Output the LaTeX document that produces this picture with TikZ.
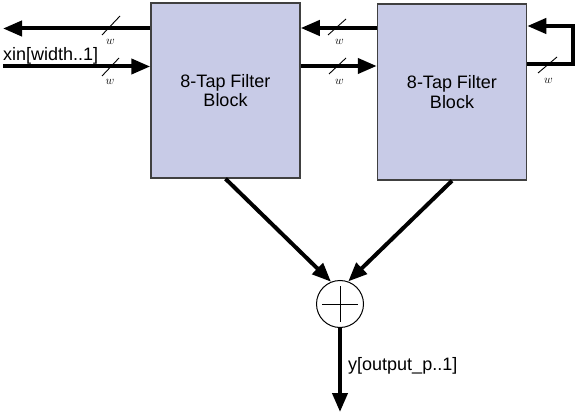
\documentclass[tikz,border=0pt]{standalone}
\usepackage{fontspec}
\setmainfont{Liberation Sans}
\usetikzlibrary{arrows.meta}
\definecolor{boxfill}{RGB}{200,203,231}
\definecolor{boxline}{RGB}{64,64,64}
\tikzset{
  fbox/.style={draw=boxline, line width=1.5pt, fill=boxfill, minimum width=149pt, minimum height=175pt, align=center, inner sep=0pt, font=\fontsize{18}{19.5}\selectfont},
  arr/.style={line width=4pt, -{Triangle[length=19pt,width=15pt]}},
  slash/.style={line width=0.9pt},
  wlab/.style={inner sep=0pt, font=\fontsize{13}{15}\selectfont},
  lbl/.style={inner sep=0pt, font=\fontsize{18}{20}\selectfont},
  sumc/.style={circle, draw, line width=1pt, minimum size=47pt, inner sep=0pt},
}
\begin{document}
\begin{tikzpicture}[x=1pt,y=-1pt]
\useasboundingbox (0,0) rectangle (578,414);
% blocks
\node[fbox] (b1) at (225.5,90.5) {8-Tap Filter\\Block};
\node[fbox, minimum height=176pt] (b2) at (452,92) {8-Tap Filter\\Block};
% left connectors
\coordinate (outL) at (3,28.5);
\coordinate (inL) at (3,66.5);
\draw[arr] (b1.west |- outL) -- (outL);
\draw[arr] (inL) -- (inL -| b1.west);
\node[lbl, anchor=base west] (xin) at (3,61) {xin[width..1]};
\draw[slash] (102,35) -- ++(18,-19);
\node[wlab] (w1) at (110.5,42) {$w$};
\draw[slash] (102,76) -- ++(17,-18);
\node[wlab] (w2) at (110,82) {$w$};
% between blocks
\coordinate (mT) at (340,28);
\coordinate (mB) at (340,66);
\draw[arr] (b2.west |- mT) -- (b1.east |- mT);
\draw[arr] (b1.east |- mB) -- (b2.west |- mB);
\draw[slash] (328,35) -- ++(18,-16);
\node[wlab] (w3) at (339.5,42) {$w$};
\draw[slash] (329,74) -- ++(17,-16);
\node[wlab] (w4) at (339.5,82) {$w$};
% feedback
\coordinate (fb1) at (573,64.5);
\coordinate (fb2) at (573,26);
\draw[arr] (b2.east |- fb1) -- (fb1) -- (fb2) -- (b2.east |- fb2);
\draw[slash] (538,73) -- ++(19,-16);
\node[wlab] (w5) at (548.5,80.5) {$w$};
% adder
\node[sumc] (sum) at (340,304) {};
\draw[line width=1pt] ([xshift=-18pt]sum.center) -- ([xshift=18pt]sum.center);
\draw[line width=1pt] ([yshift=18pt]sum.center) -- ([yshift=-18pt]sum.center);
\draw[arr] (b1.south) -- (sum.112);
\draw[arr] (b2.south) -- (sum.70);
\coordinate (yout) at (340,412);
\draw[arr] (sum.south) -- (yout);
\node[lbl, anchor=base west] (ylab) at (348,370) {y[output\_p..1]};
\end{tikzpicture}
\end{document}
